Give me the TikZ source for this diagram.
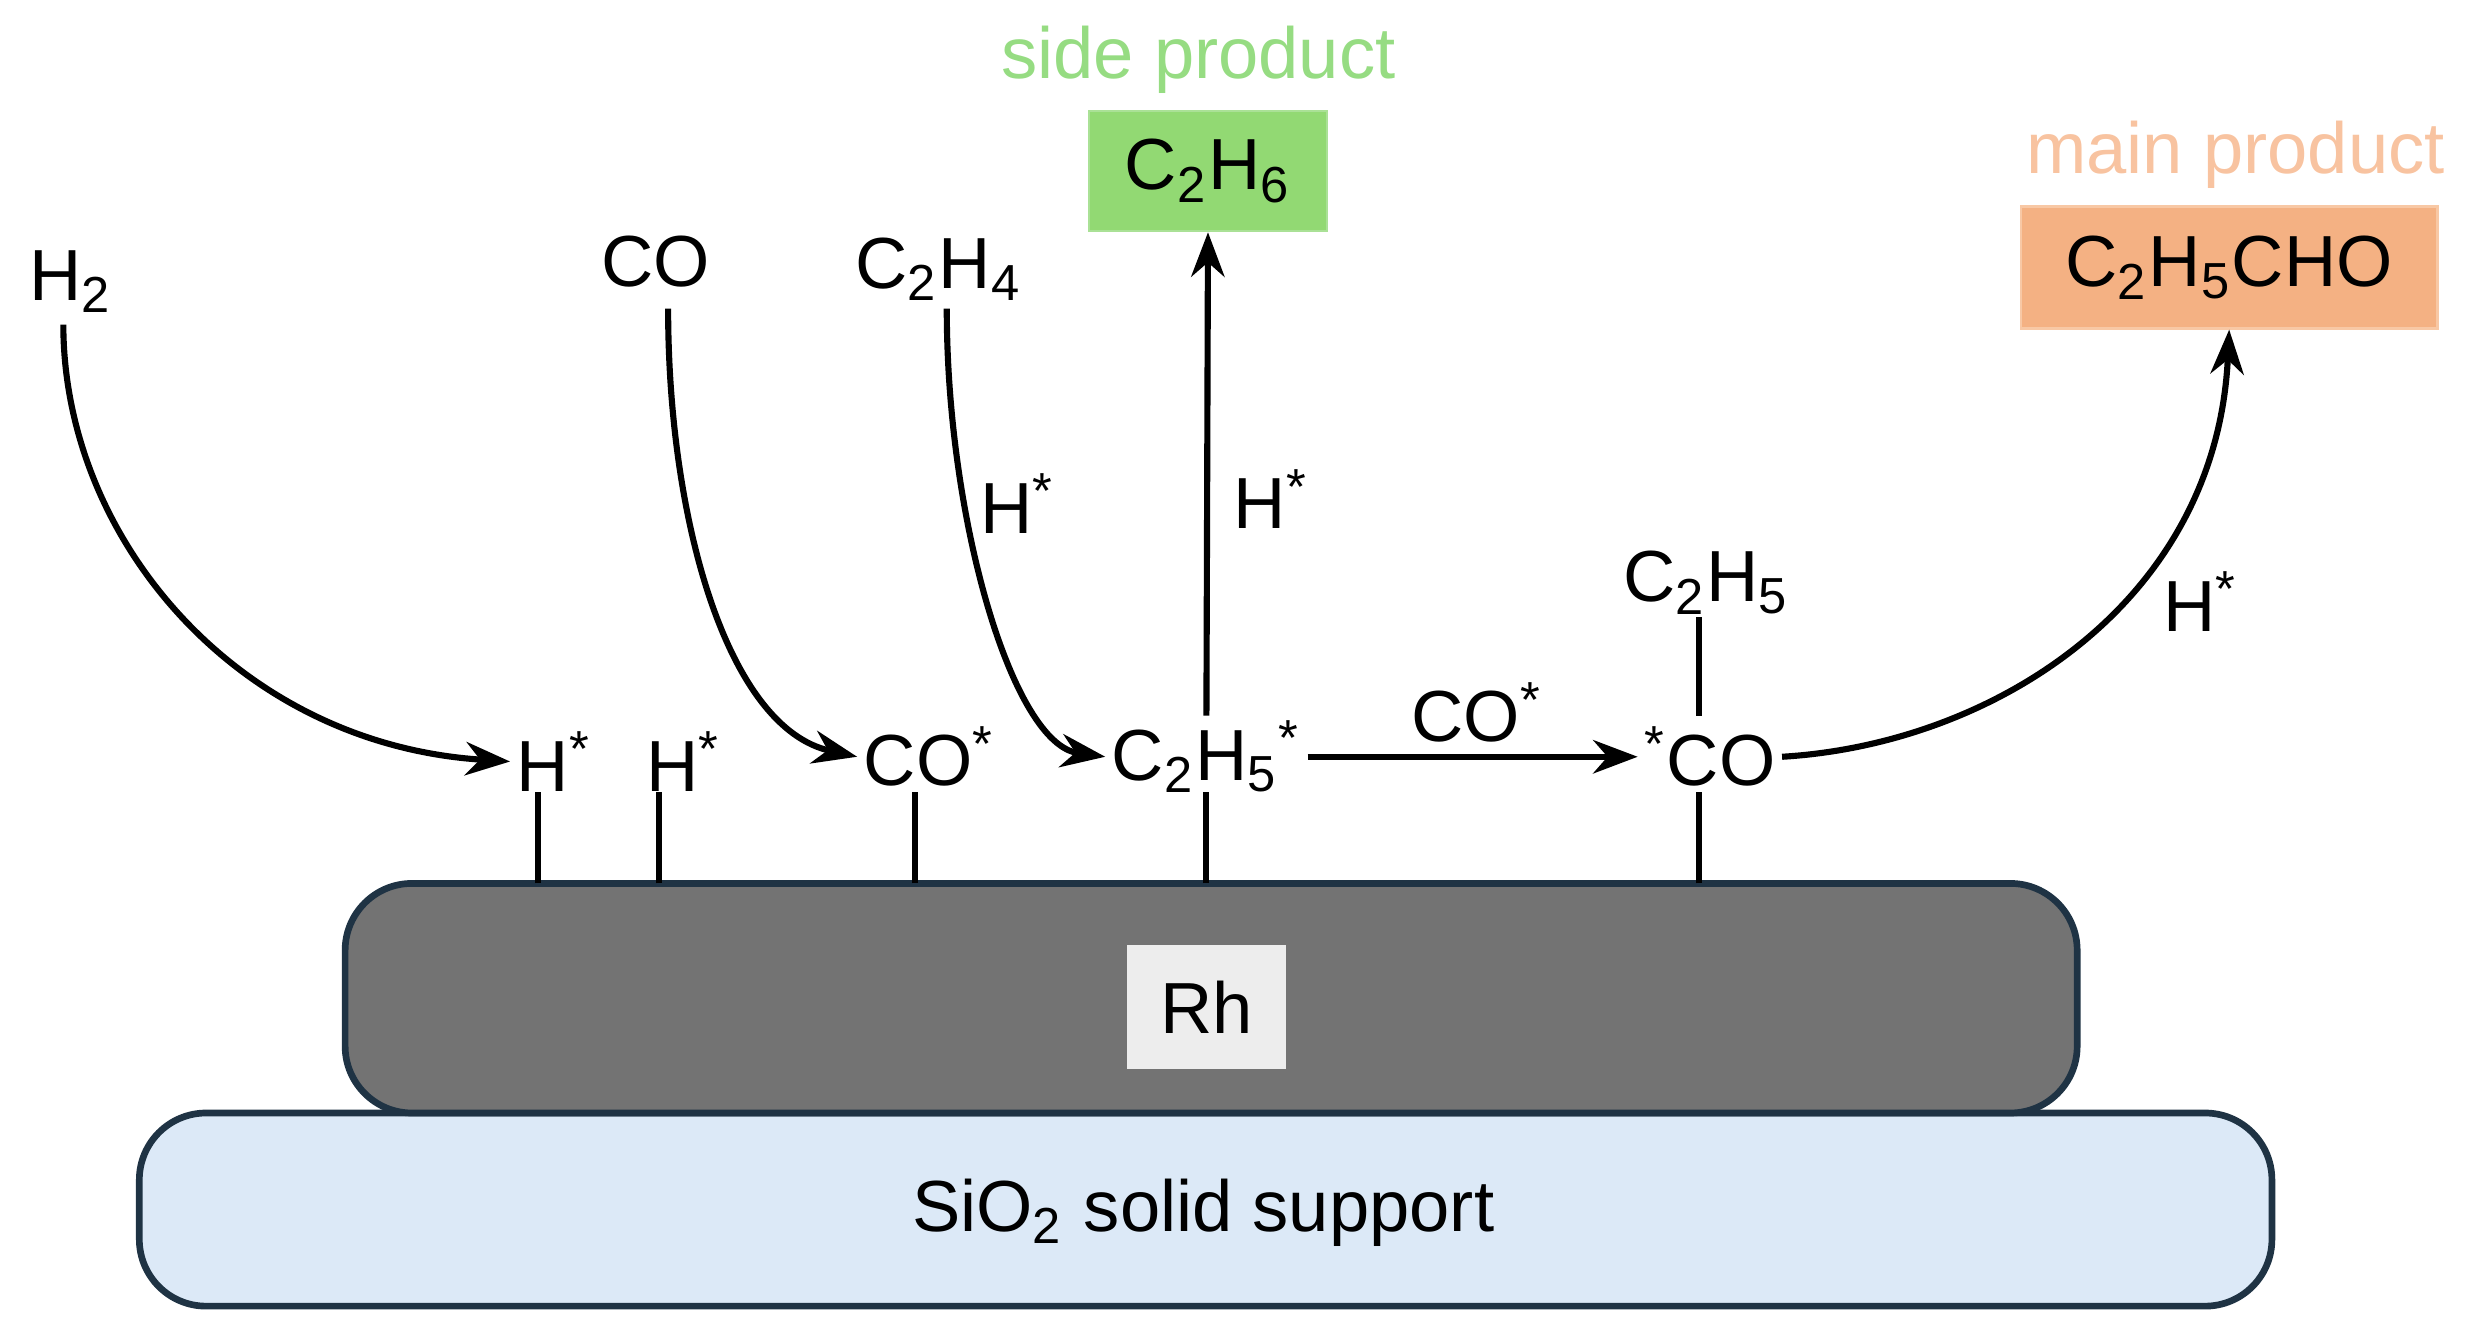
\documentclass[tikz,border=0pt]{standalone}
\usepackage{fontspec}
\setmainfont{Liberation Sans}
\usetikzlibrary{arrows.meta}
\definecolor{edge}{HTML}{1F3344}
\tikzset{
 lab/.style={font=\fontsize{13}{15}\selectfont, inner sep=1pt},
 arr/.style={line width=1.1pt, -{Stealth[length=8pt,width=6pt]}},
 stick/.style={line width=1.1pt},
}
\begin{document}
\begin{tikzpicture}[x=0.01cm,y=-0.01cm]
\useasboundingbox (0,0) rectangle (1562,846);
\draw[fill={rgb,255:red,220;green,233;blue,247}, draw=edge, line width=1.2pt, rounded corners=12pt] (88,703) rectangle (1435,825);
\node[lab] (sio) at (760,766) {SiO\textsubscript{2} solid support};
\draw[fill={rgb,255:red,115;green,115;blue,115}, draw=edge, line width=1.2pt, rounded corners=12pt] (218,558) rectangle (1312,703);
\node[lab, fill={rgb,255:red,237;green,237;blue,237}, minimum width=1cm, minimum height=0.78cm] (rh) at (762,636) {Rh};
\node[lab] (h1) at (350,481) {H\textsuperscript{*}};
\node[lab] (h2) at (432,481) {H\textsuperscript{*}};
\node[lab] (co) at (587,478) {CO\textsuperscript{*}};
\node[lab] (c2h5) at (762,478) {C\textsubscript{2}H\textsubscript{5}\textsuperscript{*}};
\node[lab] (aco) at (1080,478) {\textsuperscript{*}CO};
\node[lab] (et) at (1078,368) {C\textsubscript{2}H\textsubscript{5}};
\coordinate (s1) at (340,558); \coordinate (t1) at (340,500);
\coordinate (s2) at (416,558); \coordinate (t2) at (416,500);
\coordinate (s3) at (578,558); \coordinate (t3) at (578,500);
\coordinate (s4) at (762,558); \coordinate (t4) at (762,500);
\coordinate (s5) at (1073,558); \coordinate (t5) at (1073,500);
\foreach \i in {1,...,5} \draw[stick] (s\i) -- (t\i);
\draw[stick] (1073,390) -- (1073,452);
\node[lab] (h2g) at (45,178) {H\textsubscript{2}};
\node[lab] (cog) at (414,165) {CO};
\node[lab] (c2h4) at (593,170) {C\textsubscript{2}H\textsubscript{4}};
\node[lab, fill={rgb,255:red,146;green,217;blue,115}, draw={rgb,255:red,170;green,225;blue,150}, minimum width=1.5cm, minimum height=0.76cm] (c2h6) at (763,108) {C\textsubscript{2}H\textsubscript{6}};
\node[lab, text={rgb,255:red,150;green,220;blue,130}] (sp) at (757,38) {side product};
\node[lab, fill={rgb,255:red,244;green,177;blue,131}, draw={rgb,255:red,248;green,200;blue,165}, minimum width=2.63cm, minimum height=0.77cm] (prop) at (1408,169) {C\textsubscript{2}H\textsubscript{5}CHO};
\node[lab, text={rgb,255:red,248;green,195;blue,160}] (mp) at (1412,98) {main product};
\draw[arr] (40,205) .. controls (40,340) and (150,470) .. (h1.west);
\draw[arr] (422,195) .. controls (422,330) and (460,460) .. (co.west);
\draw[arr] (598,195) .. controls (598,330) and (640,470) .. (c2h5.west);
\draw[arr] (762,452) -- (c2h6.south);
\draw[arr] (c2h5.east) -- (aco.west);
\draw[arr] (aco.east) .. controls (1260,470) and (1400,380) .. (prop.south);
\node[lab] (l1) at (643,318) {H\textsuperscript{*}};
\node[lab] (l2) at (803,315) {H\textsuperscript{*}};
\node[lab] (l3) at (933,450) {CO\textsuperscript{*}};
\node[lab] (l4) at (1390,380) {H\textsuperscript{*}};
\end{tikzpicture}
\end{document}
